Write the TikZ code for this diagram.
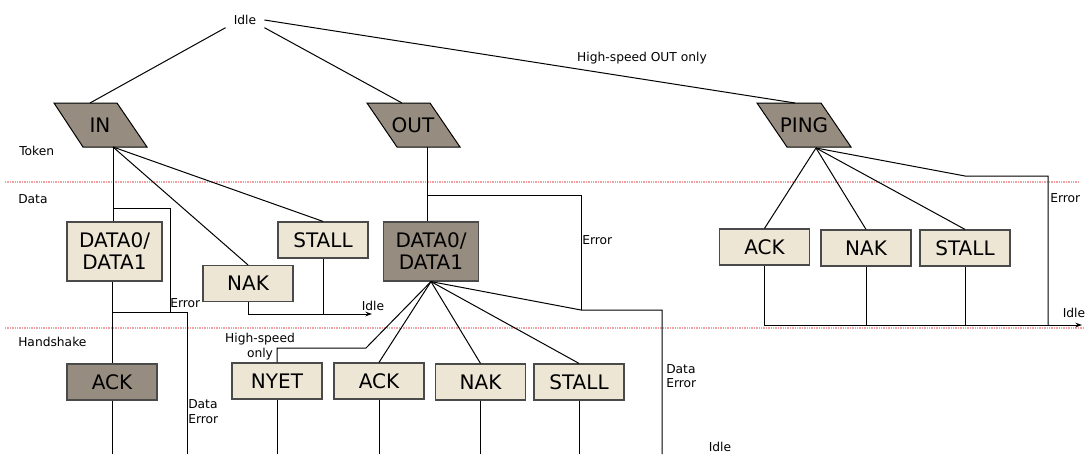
\documentclass[tikz,border=0pt]{standalone}
\usepackage{fontspec}
\setmainfont{DejaVu Sans}
\usetikzlibrary{arrows.meta}
\definecolor{boxlight}{HTML}{EDE6D5}
\definecolor{boxdark}{HTML}{968C80}
\definecolor{edge}{HTML}{4A4A4A}
\definecolor{sepred}{HTML}{F2A0A0}
\begin{document}
\begin{tikzpicture}[x=0.75pt,y=-0.75pt,
  lbl/.style={font=\fontsize{9.2}{11}\selectfont, inner sep=0pt},
  box/.style={draw=edge, line width=0.9pt, minimum width=67.5pt, minimum height=27pt, inner sep=0pt, font=\fontsize{15}{16.5}\selectfont, align=center},
  light/.style={box, fill=boxlight},
  dark/.style={box, fill=boxdark},
  dbox/.style={minimum width=71.25pt, minimum height=44.25pt},
  conn/.style={draw=black, line width=0.75pt},
  arr/.style={conn, -{Stealth[length=5pt,width=3.5pt]}},
  sepline/.style={draw=sepred, line width=0.8pt, dash pattern=on 1pt off 0.8pt},
  tokshape/.style={draw=black, fill=boxdark, line width=0.75pt},
  toktext/.style={font=\fontsize{15}{16.5}\selectfont, inner sep=0pt}
]
\useasboundingbox (0,0) rectangle (1085,454);

% separator lines
\draw[sepline] (5,182) -- (1080,182);
\draw[sepline] (5,328) -- (1085,328);

% phase labels
\node[lbl, anchor=west] (ltoken) at (19,151) {Token};
\node[lbl, anchor=west] (ldata) at (18,199) {Data};
\node[lbl, anchor=west] (lhand) at (18,342) {Handshake};

% top idle
\node[lbl, inner xsep=6pt, inner ysep=2pt] (idle) at (245,20) {Idle};
\node[lbl] (hsout) at (642,58) {High-speed OUT only};

% token parallelograms
\draw[tokshape] (54,103) -- (117,103) -- (147,147) -- (83,147) -- cycle;
\node[toktext] (in) at (100,125) {IN};
\draw[tokshape] (367,103) -- (430,103) -- (460,147) -- (397,147) -- cycle;
\node[toktext] (out) at (413,125) {OUT};
\draw[tokshape] (757,103) -- (821,103) -- (851,147) -- (787,147) -- cycle;
\node[toktext] (ping) at (804,125) {PING};

\coordinate (inT) at (90,103);
\coordinate (inB) at (113,147);
\coordinate (outT) at (402,103);
\coordinate (outB) at (427,147);
\coordinate (pingT) at (795,103);
\coordinate (pingB) at (816,148);

% IN branch boxes
\node[light, dbox] (inD) at (114.5,251.5) {DATA0/\\DATA1};
\node[light] (inNAK) at (248,283.5) {NAK};
\node[light] (inSTALL) at (323,240) {STALL};
\node[dark] (inACK) at (112,382) {ACK};

% OUT branch boxes
\node[dark, dbox] (outD) at (431,251.5) {DATA0/\\DATA1};
\node[light] (nyet) at (277,381) {NYET};
\node[light] (outACK) at (379,381) {ACK};
\node[light] (outNAK) at (480.5,382) {NAK};
\node[light] (outSTALL) at (579,382) {STALL};

% PING branch boxes
\node[light] (pACK) at (764.5,247) {ACK};
\node[light] (pNAK) at (866,248) {NAK};
\node[light] (pSTALL) at (965,248) {STALL};

% labels
\node[lbl, anchor=west] (inErr) at (170,303) {Error};
\node[lbl, anchor=west, align=left] (inDErr) at (188,411.5) {Data\\Error};
\node[lbl] (inIdle) at (373,306) {Idle};
\node[lbl, align=center] (hsonly) at (260,346.5) {High-speed\\only};
\node[lbl, anchor=west] (outErr) at (582,240) {Error};
\node[lbl, anchor=west, align=left] (outDErr) at (666,376) {Data\\Error};
\node[lbl] (outIdle) at (720,447) {Idle};
\node[lbl, anchor=west] (pErr) at (1050,198) {Error};
\node[lbl] (pIdle) at (1074,313) {Idle};

% idle to tokens
\draw[conn] (idle.south west) -- (inT);
\draw[conn] (idle.south east) -- (outT);
\draw[conn] (idle.east) -- (pingT);

% IN connectors
\coordinate (inE1) at (113,208);
\coordinate (inE2) at (170,312);
\coordinate (inJ) at (112,312);
\coordinate (inE3) at (187,454);
\coordinate (inA) at (112,454);
\coordinate (inIdleEnd) at (372,314);
\draw[conn] (inB) -- (inB |- inD.north);
\draw[conn] (inB) -- (inNAK.north);
\draw[conn] (inB) -- (inSTALL.north);
\draw[conn] (inE1) -| (inE2);
\draw[conn] (inACK.north |- inD.south) -- (inACK.north);
\draw[conn] (inJ) -| (inE3);
\draw[conn] (inACK.south) -- (inA);
\draw[arr] (inNAK.south) |- (inIdleEnd);
\draw[conn] (inSTALL.south) -- (inSTALL.south |- inIdleEnd);

% OUT connectors
\coordinate (outE1) at (427,195);
\coordinate (outE2) at (581,310);
\coordinate (outE3) at (662,454);
\coordinate (nyK1) at (366,348);
\coordinate (nyK2) at (277,348);
\draw[conn] (outB) -- (outB |- outD.north);
\draw[conn] (outE1) -| (outE2);
\draw[conn] (outD.south) -- (outE2) -| (outE3);
\draw[conn] (outD.south) -- (nyK1) -- (nyK2) -- (nyet.north);
\draw[conn] (outD.south) -- (outACK.north);
\draw[conn] (outD.south) -- (outNAK.north);
\draw[conn] (outD.south) -- (outSTALL.north);
\draw[conn] (nyet.south) -- (nyet.south |- 0,454);
\draw[conn] (outACK.south) -- (outACK.south |- 0,454);
\draw[conn] (outNAK.south) -- (outNAK.south |- 0,454);
\draw[conn] (outSTALL.south) -- (outSTALL.south |- 0,454);

% PING connectors
\coordinate (pE1) at (965,176);
\coordinate (pE2) at (1048,325);
\coordinate (pIdleEnd) at (1082,325);
\draw[conn] (pingB) -- (pACK.north);
\draw[conn] (pingB) -- (pNAK.north);
\draw[conn] (pingB) -- (pSTALL.north);
\draw[conn] (pingB) -- (pE1) -| (pE2);
\draw[arr] (pACK.south) |- (pIdleEnd);
\draw[conn] (pNAK.south) -- (pNAK.south |- pIdleEnd);
\draw[conn] (pSTALL.south) -- (pSTALL.south |- pIdleEnd);
\end{tikzpicture}
\end{document}
